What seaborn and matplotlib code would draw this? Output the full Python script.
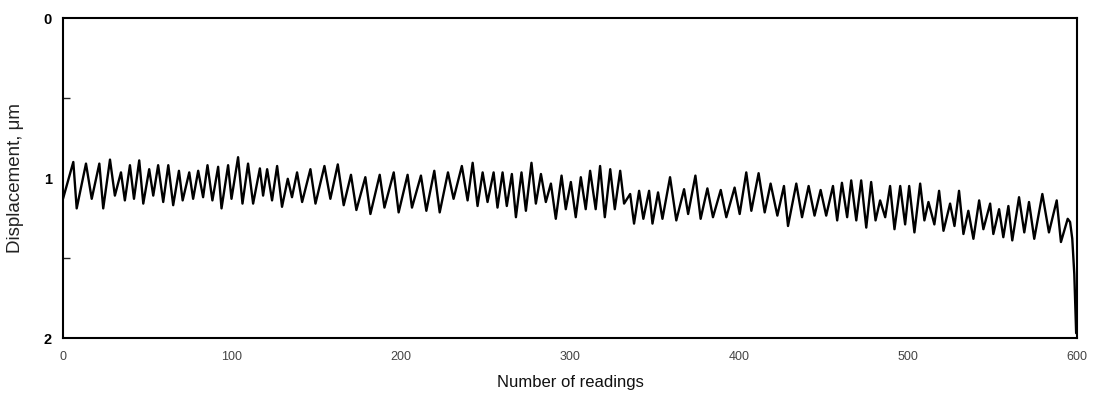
import matplotlib
matplotlib.use('Agg')
import matplotlib.pyplot as plt
import seaborn as sns
import pandas as pd
from matplotlib.ticker import FixedLocator

# Vertices (peaks / troughs) of the displacement trace
readings = [
    0.0, 6.1, 8.1, 13.6, 17.0, 21.5, 23.8, 27.8, 30.7, 34.3, 36.6, 39.6, 42.0, 45.1,
    47.5, 51.0, 53.4, 56.3, 59.3, 62.3, 65.2, 68.6, 70.8, 74.7, 77.0, 80.0, 82.9, 85.5,
    88.4, 91.8, 93.8, 97.7, 99.7, 103.6, 106.2, 109.5, 112.5, 116.5, 118.4,
    120.8, 123.7, 126.7, 129.6, 133.0, 135.5, 138.5, 141.5, 146.4, 149.4, 154.7, 158.2,
    162.6, 166.1, 170.4, 173.6, 178.9, 181.9, 187.4, 190.2, 195.7, 198.6, 203.9, 206.5,
    211.8, 215.0, 219.7, 222.9, 227.8, 231.1, 236.0, 239.4,
    242.4, 245.3, 248.3, 251.2, 254.8, 257.1, 260.1, 262.6, 265.6, 268.0, 271.3, 273.9,
    277.2, 279.8, 282.8, 285.7, 288.7, 291.6, 295.0, 297.5, 300.5, 303.4, 306.4, 309.3,
    311.9, 315.2, 317.8, 320.6, 323.8, 326.5, 329.7, 332.0, 335.6, 337.9, 340.9, 343.4,
    346.8, 348.8, 352.1, 354.7, 359.2, 362.9,
    367.5, 369.9, 374.2, 377.3, 381.3, 384.6, 389.2, 392.5, 397.4, 400.4, 404.3, 407.3,
    411.6, 415.2, 418.7, 422.7, 426.6, 429.0, 433.9, 437.3, 441.2, 444.7, 448.3, 451.6,
    455.6, 458.1, 460.9, 464.0, 466.4, 469.4, 472.3, 475.3, 478.2, 480.8,
    483.5, 486.5, 489.4, 492.0, 495.4, 498.3, 500.7, 503.8, 507.2, 509.7, 512.1, 515.6,
    518.4, 521.0, 524.9, 527.5, 530.2, 532.8, 535.7, 538.7, 542.1, 544.6, 548.6, 550.5,
    553.9, 556.4, 559.4, 561.7, 565.7, 568.8, 571.6, 574.7, 579.5, 583.4, 588.0, 590.5,
    594.5, 595.9, 597.2, 598.4, 599.5,
]
displacement = [
    1.13, 0.90, 1.19, 0.91, 1.13, 0.91, 1.19, 0.885, 1.11, 0.965, 1.14, 0.92, 1.13, 0.89,
    1.16, 0.945, 1.11, 0.92, 1.15, 0.92, 1.17, 0.955, 1.14, 0.965, 1.13, 0.955, 1.12, 0.92,
    1.14, 0.93, 1.19, 0.92, 1.13, 0.87, 1.16, 0.91, 1.16, 0.94, 1.11,
    0.945, 1.14, 0.925, 1.18, 1.005, 1.12, 0.965, 1.15, 0.945, 1.16, 0.925, 1.13,
    0.915, 1.17, 0.98, 1.20, 0.995, 1.225, 0.98, 1.185, 0.965, 1.215, 0.98, 1.185,
    0.985, 1.205, 0.955, 1.215, 0.965, 1.13, 0.925, 1.14,
    0.905, 1.175, 0.965, 1.15, 0.965, 1.185, 0.965, 1.175, 0.975, 1.245, 0.965, 1.205,
    0.905, 1.16, 0.975, 1.15, 1.035, 1.255, 0.985, 1.195, 1.025, 1.245, 0.995, 1.195,
    0.955, 1.195, 0.925, 1.245, 0.945, 1.195, 0.955, 1.16, 1.10, 1.285, 1.08, 1.255,
    1.08, 1.285, 1.09, 1.255, 0.995, 1.265,
    1.07, 1.225, 0.985, 1.255, 1.065, 1.245, 1.075, 1.245, 1.06, 1.225, 0.965, 1.205,
    0.97, 1.215, 1.035, 1.235, 1.05, 1.30, 1.035, 1.245, 1.05, 1.235, 1.075, 1.235,
    1.05, 1.265, 1.03, 1.245, 1.015, 1.265, 1.015, 1.31, 1.025, 1.265,
    1.14, 1.245, 1.05, 1.32, 1.05, 1.29, 1.05, 1.34, 1.035, 1.265, 1.15, 1.29,
    1.08, 1.33, 1.16, 1.30, 1.08, 1.35, 1.205, 1.38, 1.14, 1.32, 1.16, 1.35,
    1.195, 1.37, 1.175, 1.39, 1.12, 1.34, 1.15, 1.38, 1.10, 1.34, 1.14, 1.40,
    1.255, 1.275, 1.38, 1.60, 1.97,
]

x_ticks = [0, 100, 200, 300, 400, 500, 600]
x_tick_labels = ['0', '100', '200', '300', '400', '500', '600']
y_ticks = [0, 1, 2]
y_tick_labels = ['0', '1', '2']
y_minor_ticks = [0.5, 1.5]

sns.set_style('white')
plt.rcParams['font.family'] = ['Liberation Sans', 'DejaVu Sans']

W, H = 1098, 397
fig = plt.figure(figsize=(W / 100, H / 100), dpi=100)
left, right, top, bottom = 63, 1077, 18, 338
ax = fig.add_axes([left / W, 1 - bottom / H, (right - left) / W, (bottom - top) / H])

df = pd.DataFrame({'readings': readings, 'displacement': displacement})
sns.lineplot(data=df, x='readings', y='displacement', color='black', linewidth=1.7,
             estimator=None, sort=False, ax=ax)

ax.set_xlim(0, 600)
ax.set_ylim(2, 0)

ax.xaxis.set_major_locator(FixedLocator(x_ticks))
ax.set_xticklabels(x_tick_labels)
ax.yaxis.set_major_locator(FixedLocator(y_ticks))
ax.set_yticklabels(y_tick_labels, fontweight='bold')
ax.yaxis.set_minor_locator(FixedLocator(y_minor_ticks))

ax.tick_params(axis='x', which='major', direction='in', length=6, width=1.0,
               labelsize=9, pad=9, colors='black', labelcolor='#444444')
ax.tick_params(axis='y', which='major', direction='in', length=6, width=1.0,
               labelsize=10.5, pad=8, colors='black')
ax.tick_params(axis='y', which='minor', direction='in', length=5, width=1.0, left=True)

for s in ax.spines.values():
    s.set_visible(True)
    s.set_color('black')
    s.set_linewidth(1.5)

ax.set_xlabel('Number of readings', fontsize=12, labelpad=9, color='#111111')
ax.set_ylabel('Displacement, μm', fontsize=13.5, labelpad=14, color='#222222')
ax.grid(False)

fig.savefig('out.png', dpi=100, facecolor='white')
